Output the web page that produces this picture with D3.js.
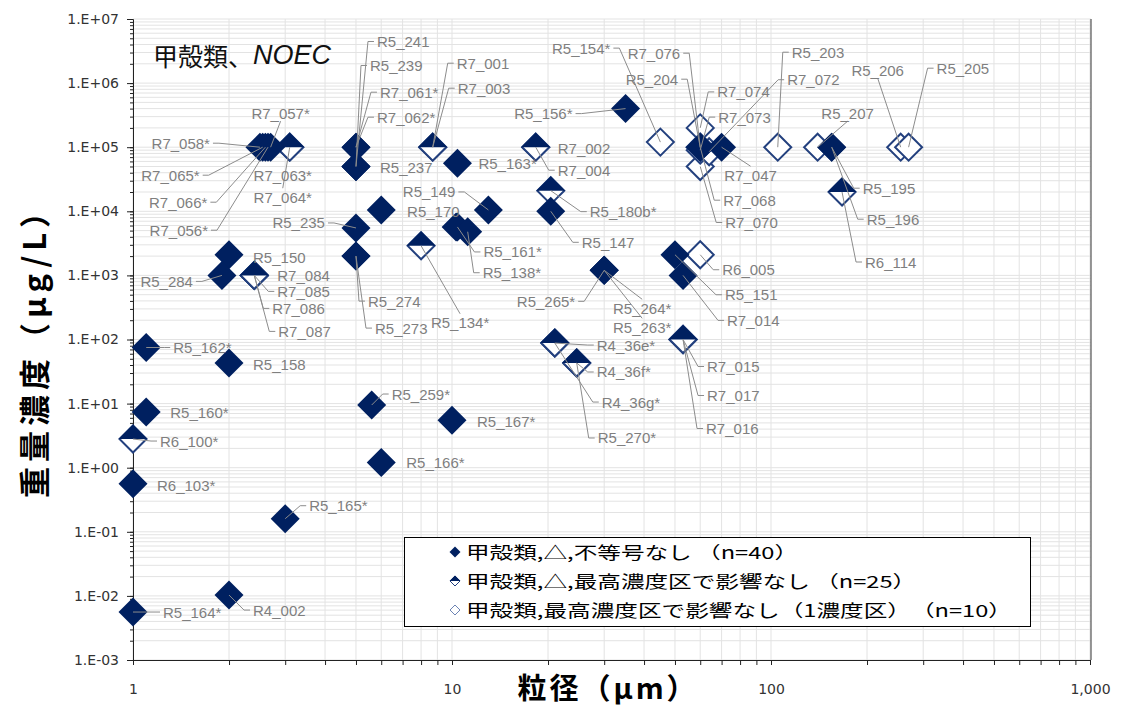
<!DOCTYPE html>
<html>
<head>
<meta charset="utf-8">
<script src="https://cdn.jsdelivr.net/npm/d3@7"></script>
<style>
  body { margin: 0; background: #fff; }
  svg text { font-family: "Liberation Sans", Arial, sans-serif; }
</style>
</head>
<body>
<div id="chart"></div>
<script>
// series names for the legend
var seriesNames = [
    "甲殻類,△,不等号なし （n=40）",
    "甲殻類,△,最高濃度区で影響なし （n=25）",
    "甲殻類,最高濃度区で影響なし（1濃度区）　（n=10）"
];

// filled diamonds
var nameA = ["R7_058*", "R7_065*", "R7_066*", "R7_056*", "R7_057*", "R5_241", "R5_239", "R7_061*", "R7_062*", "R5_237",
    "R5_235", "", "R5_274", "R5_273", "R5_150", "R5_284", "R5_162*", "R5_158", "R5_160*", "R6_103*",
    "R5_165*", "R4_002", "R5_164*", "R5_259*", "R5_166*", "R5_149", "R5_170", "R5_161*", "R5_138*", "R5_167*",
    "R5_163*", "R5_156*", "R5_147", "R5_265*", "R5_264*", "R5_263*", "R5_151", "R7_014", "R7_047", "R7_068",
    "R5_195", "R5_196"];
var sizeA = [2.5, 2.55, 2.6, 2.65, 2.7, 5, 5, 5, 5, 5,
    5, 6, 5, 5, 2, 1.9, 1.1, 2, 1.1, 1.0,
    3, 2, 1.0, 5.6, 6, 13, 10.3, 10.4, 11.2, 10,
    10.4, 35, 20.4, 30, 30, 30, 50, 53, 70, 60,
    155, 155];
var concA = [1e5, 1e5, 1e5, 1e5, 1e5, 5e4, 5e4, 1e5, 1e5, 5e4,
    5.5e3, 1.05e4, 2e3, 2e3, 2.1e3, 1e3, 75, 43, 7.4, 0.56,
    0.16, 0.0103, 0.0056, 9.5, 1.2, 1.05e4, 5.7e3, 5.7e3, 4.8e3, 5.5,
    5.6e4, 4e5, 1e4, 1.2e3, 1.2e3, 1.2e3, 2.1e3, 1e3, 1e5, 1e5,
    1e5, 1e5];

// half filled diamonds
var nameB = ["R7_063*", "R7_064*", "R7_001", "R7_003", "R7_084", "R7_085", "R7_086", "R7_087", "R6_100*", "R5_134*",
    "R7_002", "R7_004", "R5_180b*", "R4_36e*", "R4_36g*", "R4_36f*", "R5_270*", "R7_015", "R7_017", "R7_016",
    "R6_114"];
var sizeB = [3.1, 3.1, 8.7, 8.7, 2.4, 2.4, 2.4, 2.4, 1.0, 8,
    18.3, 18.3, 20.4, 21, 21, 24.6, 24.6, 53, 53, 53,
    167];
var concB = [1e5, 1e5, 1e5, 1e5, 1e3, 1e3, 1e3, 1e3, 2.8, 2.9e3,
    1e5, 1e5, 2.1e4, 88, 88, 43, 43, 100, 100, 100,
    2e4];

// open diamonds
var nameC = ["R5_154*", "R7_074", "R7_070", "R7_073", "R7_072", "R7_076", "R5_204", "R5_203", "R5_207", "R5_206",
    "R5_205", "R6_005"];
var sizeC = [45, 60, 60, 60, 64, 60, 60, 105, 140, 255,
    270, 60];
var concC = [1.2e5, 2e5, 5e4, 9e4, 8.5e4, 1e5, 1e5, 1e5, 1e5, 1e5,
    1e5, 2.1e3];

var yTickValues = [1e-3, 1e-2, 1e-1, 1e0, 1e1, 1e2, 1e3, 1e4, 1e5, 1e6, 1e7];
var yTickLabels = ["1.E-03", "1.E-02", "1.E-01", "1.E+00", "1.E+01", "1.E+02", "1.E+03", "1.E+04", "1.E+05", "1.E+06", "1.E+07"];
var xTickValues = [1, 10, 100, 1000];
var xTickLabels = ["1", "10", "100", "1,000"];

// label placement: dx, dy from the marker, text anchor, leader type
var labelLayout = {
    "R7_058*": [-50, -4, "end", "side"],
    "R7_065*": [-63, 28, "end", "side"],
    "R7_066*": [-58, 55, "end", "side"],
    "R7_056*": [-60, 83, "end", "side"],
    "R7_057*": [10, -34, "middle", "bottom"],
    "R5_241": [21, -125, "start", "side"],
    "R5_239": [14, -101, "start", "side"],
    "R7_061*": [24, -55, "start", "side"],
    "R7_062*": [21, -30, "start", "side"],
    "R5_237": [24, 1, "start", ""],
    "R5_235": [-31, -5, "end", "side"],
    "R5_274": [12, 45, "start", "side"],
    "R5_273": [19, 72, "start", "side"],
    "R5_150": [24, 3, "start", ""],
    "R5_284": [-29, 6, "end", "side"],
    "R5_162*": [27, 0, "start", "side"],
    "R5_158": [24, 2, "start", ""],
    "R5_160*": [24, 1, "start", ""],
    "R6_103*": [24, 2, "start", ""],
    "R5_165*": [24, -13, "start", "side"],
    "R4_002": [24, 15, "start", "side"],
    "R5_164*": [30, 0, "start", "side"],
    "R5_259*": [20, -11, "start", "side"],
    "R5_166*": [25, 0, "start", ""],
    "R5_149": [-33, -18, "end", "side"],
    "R5_170": [-49, -15, "start", ""],
    "R5_161*": [26, 25, "start", "side"],
    "R5_138*": [15, 41, "start", "side"],
    "R5_167*": [25, 1, "start", ""],
    "R5_163*": [21, 0, "start", ""],
    "R5_156*": [-53, 5, "end", "side"],
    "R5_147": [31, 31, "start", "side"],
    "R5_265*": [-29, 31, "end", "side"],
    "R5_264*": [38, 38, "middle", "top"],
    "R5_263*": [38, 57, "middle", "top"],
    "R5_151": [50, 40, "start", "side"],
    "R7_014": [44, 45, "start", "side"],
    "R7_047": [29, 28, "middle", "top"],
    "R7_068": [23, 53, "start", "side"],
    "R5_195": [31, 41, "start", "side"],
    "R5_196": [35, 72, "start", "side"],
    "R7_063*": [-7, 28, "middle", ""],
    "R7_064*": [-7, 50, "middle", "top"],
    "R7_001": [24, -84, "start", "side"],
    "R7_003": [25, -59, "start", "side"],
    "R7_084": [23, 0, "start", ""],
    "R7_085": [23, 16, "start", "side"],
    "R7_086": [18, 33, "start", "side"],
    "R7_087": [24, 56, "start", "side"],
    "R6_100*": [27, 2, "start", "side"],
    "R5_134*": [39, 77, "middle", "top"],
    "R7_002": [22, 1, "start", ""],
    "R7_004": [22, 23, "start", "side"],
    "R5_180b*": [39, 21, "start", "side"],
    "R4_36e*": [42, 2, "start", "side"],
    "R4_36g*": [47, 59, "start", "side"],
    "R4_36f*": [20, 9, "start", "side"],
    "R5_270*": [21, 75, "start", "side"],
    "R7_015": [24, 27, "start", "side"],
    "R7_017": [24, 56, "start", "side"],
    "R7_016": [23, 89, "start", "side"],
    "R6_114": [23, 70, "start", "side"],
    "R5_154*": [-50, -94, "end", "side"],
    "R7_074": [17, -36, "start", "side"],
    "R7_070": [25, 56, "start", "side"],
    "R7_073": [18, -33, "start", "side"],
    "R7_072": [78, -72, "start", "side"],
    "R7_076": [-20, -94, "end", "side"],
    "R5_204": [-22, -68, "end", "side"],
    "R5_203": [14, -95, "start", "side"],
    "R5_207": [30, -34, "middle", "bottom"],
    "R5_206": [-23, -77, "middle", "bottom"],
    "R5_205": [28, -79, "start", "side"],
    "R6_005": [22, 15, "start", "side"]
};

var width = 1121,
    height = 708,
    plotLeft = 133, plotRight = 1091, plotTop = 19, plotBottom = 660;

var navy = "#002060",
    openColor = "#23407e",
    labelColor = "#7f7f7f";

var svg = d3.select("#chart").append("svg")
    .attr("width", width)
    .attr("height", height);

var x = d3.scaleLog().domain([1, 1000]).range([plotLeft, 1090]);
var y = d3.scaleLog().domain([1e-3, 1e7]).range([plotBottom, plotTop]);

// grid
var xMinor = x.ticks();
var yMinor = y.ticks(40);
var grid = svg.append("g");
grid.selectAll(".gx").data(xMinor).enter().append("line")
    .attr("x1", function (d) { return x(d); })
    .attr("x2", function (d) { return x(d); })
    .attr("y1", plotTop).attr("y2", plotBottom)
    .attr("stroke", "#e3e3e3");
grid.selectAll(".gy").data(yMinor).enter().append("line")
    .attr("x1", plotLeft).attr("x2", plotRight)
    .attr("y1", function (d) { return y(d); })
    .attr("y2", function (d) { return y(d); })
    .attr("stroke", "#e3e3e3");

svg.append("line")
    .attr("x1", plotRight).attr("x2", plotRight)
    .attr("y1", plotTop).attr("y2", plotBottom)
    .attr("stroke", "#333");

// axes
svg.append("g")
    .attr("transform", "translate(" + plotLeft + ",0)")
    .call(d3.axisLeft(y).tickValues(yTickValues).tickSize(6).tickPadding(8)
        .tickFormat(function (d, i) { return yTickLabels[i]; }));
svg.append("g")
    .attr("transform", "translate(" + plotLeft + ",0)")
    .call(d3.axisLeft(y).tickValues(yMinor).tickSize(3).tickFormat(""))
    .select(".domain").remove();

svg.append("g")
    .attr("transform", "translate(0," + plotBottom + ")")
    .call(d3.axisBottom(x).tickValues(xMinor).tickSize(5).tickFormat(""));
svg.append("g")
    .attr("transform", "translate(0," + plotBottom + ")")
    .call(d3.axisBottom(x).tickValues(xTickValues).tickSize(0).tickPadding(24)
        .tickFormat(function (d, i) { return xTickLabels[i]; }))
    .select(".domain").remove();

svg.selectAll(".domain").attr("stroke", "#222");
svg.selectAll(".tick line").attr("stroke", "#222");
svg.selectAll(".tick text")
    .style("font-family", "'DejaVu Sans', sans-serif")
    .style("font-size", "14px")
    .attr("fill", "#333");

// markers
var s = 14.5;
function diamond(r) {
    return "M0," + (-r) + "L" + r + ",0L0," + r + "L" + (-r) + ",0Z";
}
function topHalf(r) {
    return "M0," + (-r) + "L" + r + ",0L" + (-r) + ",0Z";
}

function points(names, sizes, concs, type) {
    return names.map(function (n, i) {
        return { name: n, size: sizes[i], conc: concs[i], type: type };
    });
}
var dataA = points(nameA, sizeA, concA, "A"),
    dataB = points(nameB, sizeB, concB, "B"),
    dataC = points(nameC, sizeC, concC, "C");

svg.append("g").selectAll("path")
    .data(dataC).enter().append("path")
    .attr("transform", function (d) { return "translate(" + x(d.size) + "," + y(d.conc) + ")"; })
    .attr("d", diamond(s - 1))
    .attr("fill", "#fff")
    .attr("stroke", openColor)
    .attr("stroke-width", 2);

var gB = svg.append("g").selectAll("g")
    .data(dataB).enter().append("g")
    .attr("transform", function (d) { return "translate(" + x(d.size) + "," + y(d.conc) + ")"; });
gB.append("path")
    .attr("d", diamond(s - 1))
    .attr("fill", "#fff")
    .attr("stroke", openColor)
    .attr("stroke-width", 2);
gB.append("path")
    .attr("d", topHalf(s))
    .attr("fill", navy);

svg.append("g").selectAll("path")
    .data(dataA).enter().append("path")
    .attr("transform", function (d) { return "translate(" + x(d.size) + "," + y(d.conc) + ")"; })
    .attr("d", diamond(s))
    .attr("fill", navy);

// data labels with leader lines
var all = dataC.concat(dataB, dataA).filter(function (d) { return d.name && labelLayout[d.name]; });
all.forEach(function (d) {
    var L = labelLayout[d.name];
    d.px = x(d.size);
    d.py = y(d.conc);
    d.lx = d.px + L[0];
    d.ly = d.py + L[1];
    d.anchor = L[2];
    d.lead = L[3];
});

function leaderPath(d) {
    if (d.lead == "side") {
        var ax = d.anchor == "end" ? d.lx + 3 : d.lx - 3;
        var ex = d.anchor == "end" ? ax + 6 : ax - 6;
        return "M" + d.px + "," + d.py + "L" + ex + "," + d.ly + "L" + ax + "," + d.ly;
    }
    if (d.lead == "top") return "M" + d.px + "," + d.py + "L" + d.lx + "," + (d.ly - 9);
    if (d.lead == "bottom") return "M" + d.px + "," + d.py + "L" + d.lx + "," + (d.ly + 8);
    return null;
}

svg.append("g").selectAll("path")
    .data(all.filter(function (d) { return d.lead; }))
    .enter().append("path")
    .attr("d", leaderPath)
    .attr("fill", "none")
    .attr("stroke", "#8c8c8c")
    .attr("stroke-width", 1);

svg.append("g").selectAll("text")
    .data(all).enter().append("text")
    .attr("x", function (d) { return d.lx; })
    .attr("y", function (d) { return d.ly; })
    .attr("text-anchor", function (d) { return d.anchor; })
    .attr("dominant-baseline", "central")
    .style("font-size", "15px")
    .attr("fill", labelColor)
    .text(function (d) { return d.name; });

// legend
var legend = svg.append("g");
legend.append("rect")
    .attr("x", 404.5).attr("y", 537.5)
    .attr("width", 626).attr("height", 89)
    .attr("fill", "#fff")
    .attr("stroke", "#000");
var rowY = d3.scalePoint().domain([0, 1, 2]).range([552, 610]);
var ls = 5.5;
legend.append("path")
    .attr("transform", "translate(455," + rowY(0) + ")")
    .attr("d", diamond(ls)).attr("fill", navy);
legend.append("path")
    .attr("transform", "translate(455," + rowY(1) + ")")
    .attr("d", diamond(ls - 0.5)).attr("fill", "#fff").attr("stroke", openColor).attr("stroke-width", 1);
legend.append("path")
    .attr("transform", "translate(455," + rowY(1) + ")")
    .attr("d", topHalf(ls)).attr("fill", navy);
legend.append("path")
    .attr("transform", "translate(455," + rowY(2) + ")")
    .attr("d", diamond(ls - 0.5)).attr("fill", "#fff").attr("stroke", "#6d84b4").attr("stroke-width", 1);
legend.selectAll(".lt").data(seriesNames).enter().append("text")
    .attr("transform", function (d, i) { return "translate(466," + rowY(i) + ") scale(1.39,1)"; })
    .attr("dominant-baseline", "central")
    .style("font-family", "'Noto Sans CJK JP', sans-serif")
    .style("font-size", "17px")
    .attr("fill", "#000")
    .text(function (d) { return d; });

// title
var title = svg.append("text")
    .attr("x", 153).attr("y", 55)
    .attr("dominant-baseline", "central")
    .style("font-family", "'Noto Sans CJK JP', sans-serif")
    .style("font-size", "25px")
    .attr("fill", "#111");
title.append("tspan").text("甲殻類、");
title.append("tspan").style("font-style", "italic")
    .style("font-family", "'Liberation Sans', Arial, sans-serif")
    .style("font-size", "27px").text("NOEC");

// axis titles
svg.append("text")
    .attr("transform", "translate(32," + 345 + ") rotate(-90)")
    .attr("text-anchor", "middle")
    .attr("dominant-baseline", "central")
    .style("font-family", "'Noto Sans CJK JP', sans-serif")
    .style("font-size", "31px")
    .style("font-weight", "bold")
    .style("letter-spacing", "5px")
    .attr("fill", "#000")
    .text("重量濃度（μg/L）");

svg.append("text")
    .attr("x", 608).attr("y", 686)
    .attr("text-anchor", "middle")
    .attr("dominant-baseline", "central")
    .style("font-family", "'Noto Sans CJK JP', sans-serif")
    .style("font-size", "29px")
    .style("font-weight", "bold")
    .style("letter-spacing", "3px")
    .attr("fill", "#000")
    .text("粒径（μm）");
</script>
</body>
</html>
